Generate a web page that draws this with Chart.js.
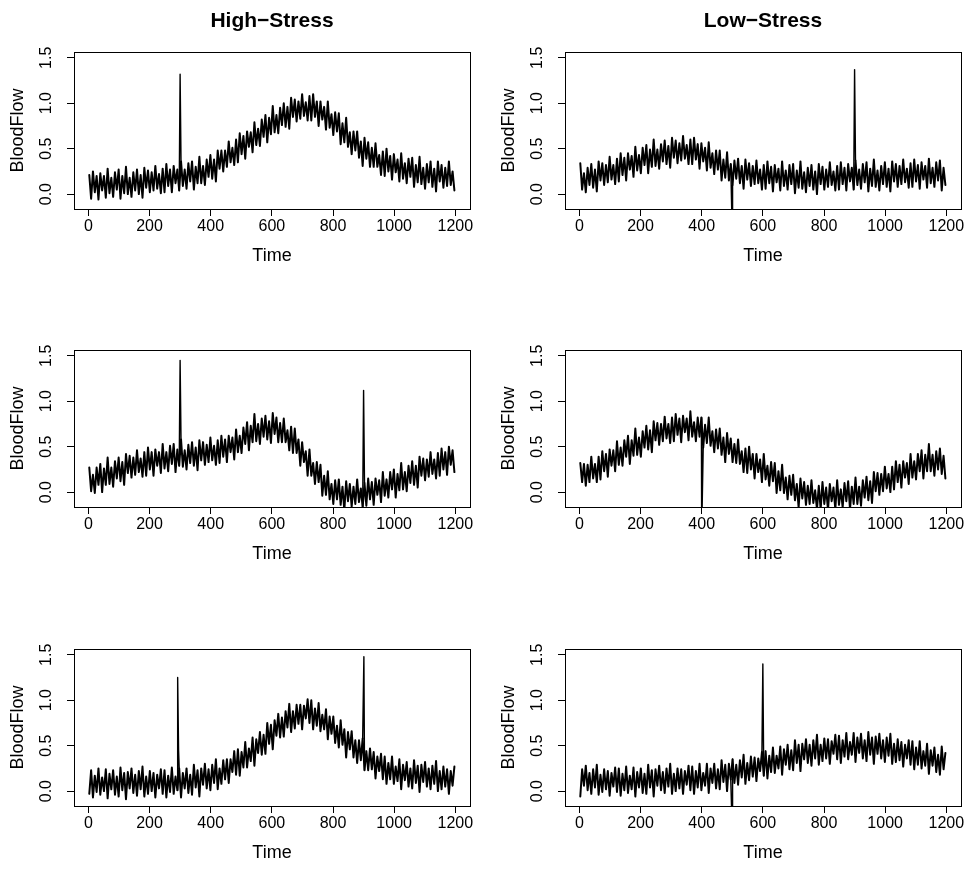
<!DOCTYPE html>
<html>
<head>
<meta charset="utf-8">
<script src="https://cdn.jsdelivr.net/npm/chart.js@4.4.1/dist/chart.umd.min.js"></script>
<style>
html,body{margin:0;padding:0;background:#fff;}
body{width:972px;height:873px;position:relative;overflow:hidden;}
canvas{position:absolute;}
</style>
</head>
<body>
<canvas id="c0" width="481" height="269" style="left:0px;top:0px"></canvas>
<canvas id="c1" width="481" height="269" style="left:491px;top:0px"></canvas>
<canvas id="c2" width="481" height="269" style="left:0px;top:298px"></canvas>
<canvas id="c3" width="481" height="269" style="left:491px;top:298px"></canvas>
<canvas id="c4" width="481" height="269" style="left:0px;top:597px"></canvas>
<canvas id="c5" width="481" height="269" style="left:491px;top:597px"></canvas>
<script>
// ---- data ----
const columnTitles = ['High\u2212Stress', 'Low\u2212Stress'];
const xTicks = [0, 200, 400, 600, 800, 1000, 1200];
const yTicks = [0, 0.5, 1.0, 1.5];
// sampling grid of time points (every 6 time units)
const time = Array.from({length: 200}, (_, i) => 6 * i + 3);

const hs1 = [
0.21,-0.05,0.25,0.02,0.20,-0.06,0.23,0.04,0.20,-0.04,
0.28,0.01,0.18,-0.03,0.24,0.05,0.27,-0.05,0.20,0.01,
0.30,0.00,0.18,-0.03,0.24,0.04,0.27,0.00,0.21,-0.04,
0.29,0.07,0.26,0.02,0.24,0.04,0.31,0.06,0.22,0.01,
0.28,0.02,0.33,0.09,0.27,0.02,0.31,0.12,0.27,0.04,
0.36,0.09,0.27,0.06,0.34,0.14,0.36,0.05,0.30,0.12,
0.41,0.12,0.31,0.10,0.38,0.19,0.43,0.17,0.38,0.14,
0.48,0.28,0.48,0.25,0.48,0.30,0.58,0.35,0.51,0.32,
0.60,0.35,0.67,0.44,0.64,0.39,0.69,0.52,0.68,0.46,
0.79,0.54,0.72,0.53,0.82,0.63,0.87,0.57,0.84,0.66,
0.97,0.68,0.87,0.67,0.95,0.76,1.00,0.74,0.96,0.72,
1.06,0.85,1.04,0.80,1.02,0.83,1.10,0.86,1.01,0.81,
1.08,0.81,1.10,0.85,1.02,0.75,1.02,0.82,0.96,0.71,
1.02,0.73,0.88,0.65,0.90,0.69,0.89,0.55,0.78,0.57,
0.84,0.52,0.68,0.44,0.69,0.48,0.69,0.40,0.58,0.31,
0.62,0.39,0.57,0.30,0.51,0.30,0.56,0.30,0.43,0.21,
0.47,0.20,0.50,0.25,0.42,0.16,0.44,0.24,0.38,0.14,
0.45,0.17,0.34,0.12,0.39,0.19,0.40,0.08,0.32,0.13,
0.41,0.11,0.29,0.06,0.33,0.13,0.36,0.08,0.28,0.03,
0.36,0.14,0.32,0.07,0.29,0.09,0.36,0.10,0.25,0.04];
const hs1Spikes = [[[300, 1.32]]];

const ls1 = [
0.34,0.05,0.23,0.02,0.29,0.10,0.33,0.07,0.27,0.03,
0.36,0.15,0.34,0.10,0.32,0.13,0.41,0.16,0.32,0.11,
0.39,0.14,0.45,0.21,0.40,0.15,0.45,0.27,0.42,0.19,
0.52,0.26,0.43,0.23,0.51,0.32,0.54,0.23,0.49,0.30,
0.60,0.31,0.49,0.28,0.55,0.36,0.59,0.33,0.53,0.29,
0.62,0.40,0.59,0.34,0.56,0.37,0.64,0.39,0.54,0.33,
0.60,0.33,0.62,0.38,0.55,0.28,0.56,0.36,0.51,0.26,
0.57,0.29,0.45,0.22,0.48,0.27,0.48,0.15,0.38,0.18,
0.46,0.15,0.33,0.10,0.37,0.17,0.39,0.12,0.31,0.06,
0.38,0.16,0.34,0.09,0.31,0.11,0.37,0.12,0.27,0.05,
0.32,0.06,0.36,0.12,0.30,0.03,0.32,0.13,0.28,0.04,
0.36,0.09,0.26,0.05,0.32,0.11,0.33,0.01,0.26,0.07,
0.36,0.06,0.24,0.02,0.29,0.09,0.32,0.05,0.25,0.00,
0.33,0.11,0.30,0.05,0.27,0.08,0.35,0.10,0.25,0.04,
0.31,0.05,0.35,0.11,0.29,0.04,0.33,0.14,0.29,0.05,
0.37,0.10,0.27,0.06,0.33,0.13,0.35,0.03,0.28,0.09,
0.38,0.08,0.26,0.04,0.31,0.11,0.35,0.08,0.28,0.03,
0.36,0.14,0.33,0.08,0.31,0.11,0.38,0.13,0.28,0.07,
0.34,0.08,0.38,0.14,0.32,0.06,0.35,0.16,0.31,0.07,
0.39,0.12,0.29,0.08,0.35,0.15,0.37,0.04,0.29,0.10];
const ls1Spikes = [[[500, -0.45]], [[900, 1.37]]];

const hs2 = [
0.27,0.01,0.19,-0.01,0.27,0.08,0.31,0.00,0.26,0.08,
0.38,0.09,0.27,0.06,0.34,0.15,0.38,0.12,0.33,0.08,
0.42,0.21,0.40,0.16,0.38,0.19,0.46,0.22,0.37,0.17,
0.44,0.18,0.49,0.25,0.44,0.18,0.47,0.29,0.44,0.21,
0.53,0.26,0.44,0.23,0.51,0.31,0.53,0.22,0.47,0.29,
0.58,0.28,0.46,0.25,0.52,0.32,0.55,0.29,0.49,0.24,
0.57,0.35,0.55,0.30,0.52,0.33,0.60,0.35,0.51,0.30,
0.57,0.32,0.62,0.39,0.58,0.33,0.62,0.44,0.60,0.36,
0.69,0.44,0.62,0.43,0.71,0.53,0.77,0.46,0.73,0.55,
0.86,0.56,0.75,0.53,0.81,0.61,0.84,0.58,0.78,0.54,
0.87,0.64,0.82,0.55,0.76,0.55,0.81,0.55,0.68,0.46,
0.72,0.43,0.70,0.43,0.58,0.29,0.55,0.33,0.45,0.18,
0.47,0.18,0.32,0.09,0.33,0.11,0.30,-0.04,0.18,-0.03,
0.23,-0.08,0.09,-0.13,0.13,-0.08,0.14,-0.14,0.06,-0.20,
0.12,-0.10,0.09,-0.16,0.06,-0.13,0.14,-0.11,0.04,-0.17,
0.10,-0.15,0.15,-0.08,0.11,-0.14,0.15,-0.03,0.13,-0.11,
0.22,-0.04,0.14,-0.06,0.22,0.03,0.25,-0.06,0.20,0.02,
0.32,0.03,0.22,0.01,0.29,0.10,0.34,0.08,0.29,0.05,
0.39,0.18,0.37,0.13,0.36,0.17,0.44,0.20,0.36,0.15,
0.43,0.18,0.48,0.25,0.44,0.19,0.50,0.30,0.46,0.22];
const hs2Spikes = [[[300, 1.45]], [[900, 1.12]]];

const ls2 = [
0.32,0.11,0.31,0.07,0.30,0.11,0.39,0.15,0.31,0.11,
0.39,0.14,0.45,0.23,0.42,0.17,0.47,0.29,0.46,0.23,
0.56,0.30,0.49,0.29,0.57,0.39,0.62,0.31,0.57,0.40,
0.70,0.41,0.60,0.39,0.67,0.49,0.73,0.47,0.68,0.44,
0.78,0.57,0.76,0.52,0.75,0.56,0.83,0.59,0.75,0.54,
0.82,0.56,0.86,0.63,0.81,0.55,0.84,0.66,0.81,0.57,
0.89,0.61,0.77,0.56,0.82,0.61,0.82,0.49,0.74,0.54,
0.82,0.51,0.67,0.44,0.69,0.48,0.70,0.41,0.60,0.33,
0.65,0.42,0.59,0.33,0.53,0.32,0.58,0.31,0.45,0.22,
0.48,0.21,0.50,0.25,0.42,0.15,0.42,0.22,0.36,0.11,
0.42,0.14,0.29,0.07,0.33,0.12,0.32,-0.01,0.23,0.02,
0.30,-0.01,0.16,-0.08,0.18,-0.03,0.19,-0.09,0.09,-0.17,
0.15,-0.07,0.11,-0.14,0.07,-0.13,0.13,-0.12,0.02,-0.19,
0.07,-0.19,0.11,-0.13,0.05,-0.20,0.09,-0.10,0.05,-0.19,
0.13,-0.14,0.03,-0.17,0.10,-0.10,0.12,-0.19,0.06,-0.13,
0.16,-0.13,0.06,-0.15,0.13,-0.06,0.17,-0.09,0.12,-0.12,
0.22,0.01,0.21,-0.03,0.20,0.01,0.28,0.04,0.20,0.00,
0.28,0.03,0.34,0.11,0.30,0.05,0.34,0.16,0.32,0.09,
0.42,0.16,0.34,0.14,0.42,0.23,0.46,0.15,0.41,0.23,
0.53,0.23,0.41,0.18,0.45,0.25,0.48,0.20,0.40,0.15];
const ls2Spikes = [[[400, -0.45]]];

const hs3 = [
-0.03,0.23,-0.07,0.17,-0.01,0.25,-0.04,0.15,0.00,0.24,
-0.08,0.19,0.02,0.23,-0.04,0.16,-0.06,0.26,0.01,0.20,
-0.09,0.21,0.03,0.25,-0.02,0.18,-0.05,0.22,0.02,0.27,
-0.06,0.16,-0.03,0.22,0.00,0.20,-0.07,0.18,0.03,0.24,
-0.03,0.23,-0.07,0.17,-0.01,0.26,-0.03,0.16,0.01,0.25,
-0.07,0.20,0.03,0.25,-0.02,0.18,-0.04,0.29,0.04,0.23,
-0.06,0.25,0.07,0.30,0.03,0.24,0.01,0.29,0.09,0.35,
0.02,0.25,0.08,0.34,0.13,0.35,0.09,0.35,0.21,0.44,
0.18,0.46,0.17,0.43,0.26,0.54,0.26,0.47,0.33,0.59,
0.28,0.57,0.42,0.65,0.40,0.62,0.41,0.75,0.52,0.73,
0.46,0.78,0.61,0.85,0.59,0.81,0.60,0.88,0.70,0.96,
0.65,0.88,0.69,0.95,0.74,0.95,0.68,0.94,0.80,1.01,
0.75,1.00,0.68,0.91,0.72,0.97,0.66,0.84,0.68,0.90,
0.57,0.82,0.63,0.82,0.53,0.72,0.48,0.78,0.51,0.68,
0.37,0.65,0.46,0.66,0.37,0.56,0.31,0.56,0.34,0.58,
0.23,0.44,0.23,0.47,0.24,0.43,0.14,0.38,0.22,0.41,
0.13,0.38,0.08,0.31,0.13,0.38,0.08,0.27,0.11,0.35,
0.02,0.29,0.12,0.32,0.05,0.25,0.03,0.34,0.09,0.28,
-0.01,0.29,0.10,0.32,0.05,0.25,0.02,0.28,0.08,0.33,
0.00,0.22,0.02,0.27,0.05,0.24,-0.03,0.22,0.06,0.27];
const hs3Spikes = [[[292, 1.25], [295, 0.45]], [[901, 1.48]]];

const ls3 = [
-0.06,0.24,0.06,0.28,0.01,0.20,-0.03,0.24,0.04,0.29,
-0.04,0.18,-0.01,0.24,0.02,0.22,-0.05,0.20,0.05,0.26,
-0.01,0.25,-0.05,0.19,0.01,0.27,-0.02,0.17,0.02,0.26,
-0.06,0.21,0.04,0.25,-0.02,0.19,-0.03,0.29,0.04,0.23,
-0.06,0.24,0.06,0.28,0.01,0.21,-0.02,0.25,0.05,0.30,
-0.03,0.19,0.00,0.25,0.03,0.24,-0.03,0.22,0.07,0.28,
0.01,0.27,-0.03,0.22,0.04,0.30,0.01,0.20,0.06,0.30,
-0.02,0.25,0.09,0.30,0.03,0.24,0.02,0.34,0.10,0.29,
0.00,0.30,0.13,0.35,0.09,0.29,0.07,0.34,0.15,0.40,
0.08,0.31,0.12,0.38,0.16,0.37,0.11,0.36,0.22,0.43,
0.17,0.44,0.14,0.39,0.21,0.48,0.20,0.39,0.25,0.49,
0.18,0.46,0.29,0.51,0.24,0.45,0.23,0.56,0.31,0.51,
0.22,0.52,0.35,0.57,0.31,0.51,0.28,0.56,0.36,0.62,
0.29,0.51,0.33,0.58,0.36,0.57,0.30,0.55,0.41,0.62,
0.35,0.61,0.31,0.56,0.38,0.64,0.35,0.54,0.40,0.64,
0.32,0.59,0.42,0.63,0.36,0.56,0.33,0.65,0.40,0.59,
0.30,0.60,0.41,0.63,0.36,0.56,0.32,0.59,0.39,0.63,
0.30,0.52,0.32,0.57,0.34,0.54,0.27,0.51,0.36,0.56,
0.29,0.55,0.24,0.48,0.29,0.55,0.25,0.44,0.28,0.52,
0.19,0.45,0.28,0.48,0.21,0.40,0.18,0.49,0.24,0.42];
const ls3Spikes = [[[500, -0.45]], [[600, 1.40]]];

// ---- drawing ----
const FONT = "'Liberation Sans', Arial, Helvetica, sans-serif";

function baseSeries(vals) {
  return vals.map((v, i) => ({x: time[i], y: v}));
}
// each spike group is drawn as a thin line joined to its neighbouring samples
function spikeSeries(vals, group) {
  const t0 = group[0][0], t1 = group[group.length - 1][0];
  const pts = baseSeries(vals).filter(p => p.x > t0 - 6 && p.x < t1 + 6);
  group.forEach(([t, v]) => pts.push({x: t, y: v}));
  pts.sort((a, b) => a.x - b.x);
  return pts;
}

const boxPlugin = {
  id: 'box',
  afterDatasetsDraw(chart) {
    const a = chart.chartArea, ctx = chart.ctx;
    ctx.save();
    ctx.strokeStyle = '#000';
    ctx.lineWidth = 1;
    ctx.strokeRect(Math.round(a.left) + 0.5, Math.round(a.top) + 0.5,
                   Math.round(a.right - a.left), Math.round(a.bottom - a.top));
    ctx.restore();
  }
};

const panels = [
  {id: 'c0', vals: hs1, spikes: hs1Spikes, title: columnTitles[0]},
  {id: 'c1', vals: ls1, spikes: ls1Spikes, title: columnTitles[1]},
  {id: 'c2', vals: hs2, spikes: hs2Spikes, title: ''},
  {id: 'c3', vals: ls2, spikes: ls2Spikes, title: ''},
  {id: 'c4', vals: hs3, spikes: hs3Spikes, title: ''},
  {id: 'c5', vals: ls3, spikes: ls3Spikes, title: ''}
];

const gridOpts = {display: true, drawOnChartArea: false, drawTicks: true,
                  tickLength: 7, color: '#000', tickColor: '#000', tickWidth: 1};

const lineStyle = {borderColor: '#000', pointRadius: 0, borderJoinStyle: 'round',
                   borderCapStyle: 'round', tension: 0, fill: false, clip: 0};

panels.forEach(p => {
  const datasets = [Object.assign({data: baseSeries(p.vals), borderWidth: 2.0}, lineStyle)];
  p.spikes.forEach(g => datasets.push(
    Object.assign({data: spikeSeries(p.vals, g), borderWidth: 1.4}, lineStyle)));
  new Chart(document.getElementById(p.id), {
    type: 'line',
    data: {datasets},
    options: {
      responsive: false, animation: false, events: [],
      layout: {padding: {top: p.title ? 0 : 52, right: 11, left: 0, bottom: 0}},
      plugins: {
        legend: {display: false},
        tooltip: {enabled: false},
        title: {display: !!p.title, text: p.title, fullSize: false, color: '#000',
                font: {family: FONT, size: 21, weight: 'bold'},
                padding: {top: 8.5, bottom: 18.3}}
      },
      scales: {
        x: {
          type: 'linear', min: -47, max: 1248,
          afterBuildTicks: s => { s.ticks = xTicks.map(v => ({value: v})); },
          afterFit: s => { s.height = 60; },
          ticks: {font: {family: FONT, size: 16}, color: '#000', padding: 1,
                  maxRotation: 0, autoSkip: false, callback: v => String(v)},
          grid: gridOpts,
          border: {display: false},
          title: {display: true, text: 'Time', color: '#000',
                  font: {family: FONT, size: 18}, padding: {top: 0, bottom: 1.7}}
        },
        y: {
          type: 'linear', min: -0.164, max: 1.564,
          afterBuildTicks: s => { s.ticks = yTicks.map(v => ({value: v})); },
          afterFit: s => { s.width = 74; },
          ticks: {font: {family: FONT, size: 16}, color: '#000', padding: 9,
                  minRotation: 90, maxRotation: 90, crossAlign: 'center', autoSkip: false,
                  callback: v => Number(v).toFixed(1)},
          grid: gridOpts,
          border: {display: false},
          title: {display: true, text: 'BloodFlow', color: '#000',
                  font: {family: FONT, size: 18}, padding: {top: 7.7, bottom: 0}}
        }
      }
    },
    plugins: [boxPlugin]
  });
});
</script>
</body>
</html>
